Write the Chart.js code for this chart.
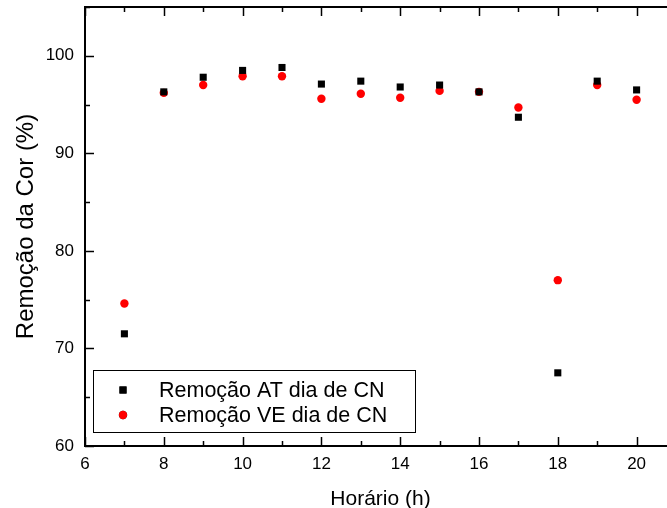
<!DOCTYPE html>
<html lang="pt">
<head>
<meta charset="utf-8">
<title>Remoção da Cor</title>
<script src="https://cdn.jsdelivr.net/npm/chart.js@4/dist/chart.umd.min.js"></script>
<style>
  html, body { margin: 0; padding: 0; background: #fff; overflow: hidden; }
  #wrap { width: 681px; height: 508px; }
</style>
</head>
<body>
<div id="wrap"><canvas id="cor" width="681" height="508"></canvas></div>
<script>
// ---- Data ------------------------------------------------------------------
const horario = [7, 8, 9, 10, 11, 12, 13, 14, 15, 16, 17, 18, 19, 20];
const remocaoAT = [71.5, 96.3, 97.8, 98.5, 98.8, 97.1, 97.4, 96.8, 97.0, 96.3, 93.7, 67.5, 97.4, 96.5];
const remocaoVE = [74.6, 96.2, 97.0, 97.9, 97.9, 95.6, 96.1, 95.7, 96.4, 96.3, 94.7, 77.0, 97.0, 95.5];

const xTicks = [6, 8, 10, 12, 14, 16, 18, 20];
const xMinor = [7, 9, 11, 13, 15, 17, 19, 21];
const yTicks = [60, 70, 80, 90, 100];
const yMinor = [65, 75, 85, 95, 105];

const FONT = "'Liberation Sans', Arial, sans-serif";

// ---- Frame, inward ticks and legend box ------------------------------------
const framePlugin = {
  id: "frame",
  afterDraw(chart) {
    const { ctx, chartArea: a, scales: { x, y } } = chart;
    ctx.save();
    ctx.strokeStyle = "#000";
    ctx.lineWidth = 2;
    ctx.strokeRect(a.left, a.top, a.right - a.left, a.bottom - a.top);

    const tick = (x1, y1, x2, y2) => {
      ctx.beginPath(); ctx.moveTo(x1, y1); ctx.lineTo(x2, y2); ctx.stroke();
    };
    ctx.lineWidth = 1.5;
    xTicks.concat(xMinor).forEach(v => {
      const len = xTicks.includes(v) ? 9 : 5;
      const px = Math.round(x.getPixelForValue(v)) + 0.5;
      tick(px, a.bottom, px, a.bottom - len);
      tick(px, a.top, px, a.top + len);
    });
    yTicks.concat(yMinor).forEach(v => {
      const len = yTicks.includes(v) ? 9 : 5;
      const py = Math.round(y.getPixelForValue(v)) + 0.5;
      tick(a.left, py, a.left + len, py);
      tick(a.right, py, a.right - len, py);
    });

    // legend
    const bx = 93, by = 370, bw = 322, bh = 62;
    ctx.lineWidth = 1;
    ctx.strokeRect(bx + 0.5, by + 0.5, bw, bh);
    ctx.font = "21.5px " + FONT;
    ctx.textBaseline = "middle";
    ctx.textAlign = "left";
    chart.data.datasets.forEach((ds, i) => {
      const cy = by + 20 + i * 25;
      Chart.helpers.drawPoint(ctx, {
        pointStyle: ds.pointStyle,
        radius: ds.pointRadius,
        borderWidth: 0
      }, bx + 30, cy);
      ctx.fillStyle = ds.backgroundColor;
      ctx.fill();
      ctx.fillStyle = "#000";
      ctx.fillText(ds.label, bx + 66, cy + 1);
    });
    ctx.restore();
  }
};

// ---- Chart -----------------------------------------------------------------
new Chart(document.getElementById("cor"), {
  type: "scatter",
  data: {
    datasets: [
      {
        label: "Remoção AT dia de CN",
        data: horario.map((h, i) => ({ x: h, y: remocaoAT[i] })),
        pointStyle: "rect",
        pointRadius: 5,
        borderWidth: 0,
        backgroundColor: "#000000"
      },
      {
        label: "Remoção VE dia de CN",
        data: horario.map((h, i) => ({ x: h, y: remocaoVE[i] })),
        pointStyle: "circle",
        pointRadius: 4.2,
        borderWidth: 0,
        backgroundColor: "#ff0000"
      }
    ]
  },
  options: {
    responsive: false,
    animation: false,
    devicePixelRatio: 1,
    layout: { padding: { top: 7, left: 0, right: 0, bottom: 0 } },
    plugins: { legend: { display: false }, tooltip: { enabled: false } },
    scales: {
      x: {
        type: "linear",
        min: 6, max: 21,
        afterBuildTicks: s => { s.ticks = xTicks.map(v => ({ value: v })); },
        afterFit: s => { s.height = 62; s.paddingLeft = 0; s.paddingRight = 0; },
        grid: { display: false, drawTicks: false },
        border: { display: false },
        ticks: { color: "#000", padding: 8, font: { family: FONT, size: 17 } },
        title: {
          display: true, text: "Horário (h)", color: "#000",
          font: { family: FONT, size: 21, lineHeight: 0.85 }, padding: { top: 0, bottom: 0 }
        }
      },
      y: {
        type: "linear",
        min: 60, max: 105,
        afterBuildTicks: s => { s.ticks = yTicks.map(v => ({ value: v })); },
        afterFit: s => { s.width = 85; s.paddingTop = 0; s.paddingBottom = 0; },
        grid: { display: false, drawTicks: false },
        border: { display: false },
        ticks: { color: "#000", padding: 11, font: { family: FONT, size: 17 } },
        title: {
          display: true, text: "Remoção da Cor (%)", color: "#000",
          font: { family: FONT, size: 24, lineHeight: 1.2 }, padding: { top: 12, bottom: 0 }
        }
      }
    }
  },
  plugins: [framePlugin]
});
</script>
</body>
</html>
